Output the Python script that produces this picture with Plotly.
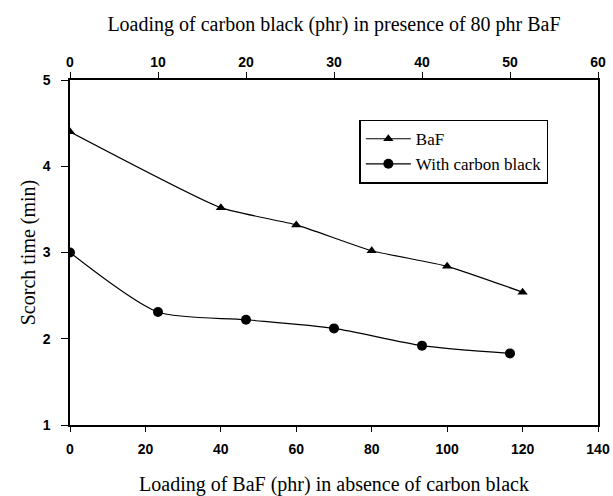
import plotly.graph_objects as go

# Data
baf_loading = [0, 40, 60, 80, 100, 120]
baf_scorch = [4.4, 3.52, 3.32, 3.02, 2.84, 2.54]

cb_loading = [0, 10, 20, 30, 40, 50]
cb_scorch = [3.0, 2.31, 2.22, 2.12, 1.92, 1.83]

bottom_ticks = [0, 20, 40, 60, 80, 100, 120, 140]
top_ticks = [0, 10, 20, 30, 40, 50, 60]
y_ticks = [1, 2, 3, 4, 5]

serif = "Liberation Serif, Times New Roman, serif"
sans = "Liberation Sans, Arial, sans-serif"

fig = go.Figure()
fig.add_trace(go.Scatter(
    x=baf_loading, y=baf_scorch, name="BaF", mode="lines+markers",
    line=dict(color="black", width=1.2, shape="spline", smoothing=0.5),
    marker=dict(symbol="triangle-up", size=9, color="black"),
    xaxis="x", yaxis="y"))
fig.add_trace(go.Scatter(
    x=cb_loading, y=cb_scorch, name="With carbon black", mode="lines+markers",
    line=dict(color="black", width=1.2, shape="spline", smoothing=0.7),
    marker=dict(symbol="circle", size=10, color="black"),
    xaxis="x2", yaxis="y"))

tickfont = dict(family=sans, size=14, color="black", weight="bold")
titlefont = dict(family=serif, size=20, color="black")

fig.update_layout(
    width=613, height=496,
    margin=dict(l=70, r=15, t=80, b=71),
    font=dict(color="black"),
    paper_bgcolor="white", plot_bgcolor="white",
    showlegend=True,
    legend=dict(x=0.548, y=0.885, xanchor="left", yanchor="top",
                bordercolor="black", borderwidth=1.5, bgcolor="white",
                font=dict(family=serif, size=17, color="black"),
                tracegroupgap=0, itemwidth=45),
    xaxis=dict(range=[0, 140], tickvals=bottom_ticks, showgrid=False, zeroline=False,
               automargin=False,
               showline=True, linecolor="black", linewidth=1.5,
               ticks="outside", ticklen=5, tickcolor="black", tickfont=tickfont,
               ticklabelstandoff=5,
               title=dict(text="Loading of BaF (phr) in absence of carbon black",
                          font=titlefont, standoff=26)),
    xaxis2=dict(range=[0, 60], tickvals=top_ticks, overlaying="x", side="top",
                automargin=False,
                showgrid=False, zeroline=False, showline=True, linecolor="black", linewidth=1.5,
                ticks="outside", ticklen=6, tickcolor="black", tickfont=tickfont,
                title=dict(text="Loading of carbon black (phr) in presence of 80 phr BaF",
                           font=titlefont, standoff=17)),
    yaxis=dict(range=[1, 5], tickvals=y_ticks, showgrid=False, zeroline=False,
               automargin=False,
               showline=True, linecolor="black", linewidth=1.5, mirror=True,
               ticks="outside", ticklen=7, tickcolor="black", tickfont=tickfont,
               ticklabelstandoff=8,
               title=dict(text="Scorch time (min)", font=titlefont, standoff=2)),
)

fig.write_html("out.html")
